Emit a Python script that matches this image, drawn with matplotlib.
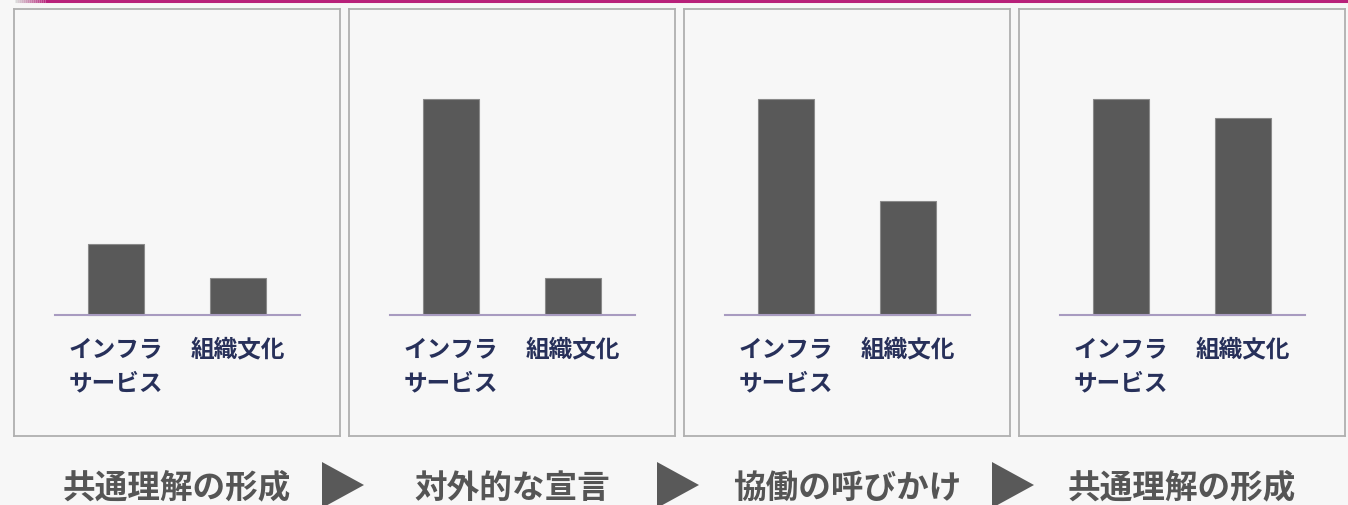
import matplotlib
matplotlib.use("Agg")
import numpy as np
import matplotlib.pyplot as plt
from matplotlib.patches import Polygon

plt.rcParams['font.family'] = ['Noto Sans CJK JP', 'DejaVu Sans']

# data
categories = ['インフラ\nサービス', '組織文化']
stages = ['共通理解の形成', '対外的な宣言', '協働の呼びかけ', '共通理解の形成']
infra = [33, 100, 100, 100]
culture = [17, 17, 53, 91]

W, H = 1348, 505
BG = '#f7f7f7'
BAR = '#595959'
NAVY = '#27305a'
GREY_TXT = '#555555'

fig = plt.figure(figsize=(W / 100, H / 100), dpi=100, facecolor=BG)

# overlay in pixel coordinates for decoration
deco = fig.add_axes([0, 0, 1, 1], zorder=0)
deco.set_xlim(0, W)
deco.set_ylim(H, 0)
deco.axis('off')
deco.set_facecolor(BG)

# top accent line, fading in on the left
deco.plot([45, W], [0.8, 0.8], color='#b8207a', lw=2.2, solid_capstyle='butt')
fade = np.linspace(0, 1, 16)
for k in range(15):
    t = fade[k]
    c = (0.85 * (1 - t) + 0.72 * t, 0.85 * (1 - t) + 0.13 * t, 0.85 * (1 - t) + 0.48 * t)
    deco.plot([15 + 2 * k, 17 + 2 * k], [0.8, 0.8], color=c, lw=2.2, solid_capstyle='butt')

panel_left = [14, 349, 684, 1019]
pw, top, bottom = 326, 9, 436
base_y = 315
unit = 2.16  # px per value unit

for i, px in enumerate(panel_left):
    ax = fig.add_axes([px / W, 1 - bottom / H, pw / W, (bottom - top) / H], zorder=1)
    ax.set_facecolor(BG)
    for s in ax.spines.values():
        s.set_color('#b0b0b0')
        s.set_linewidth(1.3)
    ax.set_xticks([])
    ax.set_yticks([])
    ax.set_xlim(-102 / 122, 1 + 102 / 122)
    ax.set_ylim(-(bottom - base_y) / unit, (base_y - top) / unit)

    ax.bar([0, 1], [infra[i], culture[i]], width=56 / 122, color=BAR,
           edgecolor='#8a8a8a', linewidth=0.8, zorder=2)
    ax.plot([-0.5, 1.51], [0, 0], color='#a89bc0', lw=1.5, zorder=3)

    for j, lab in enumerate(categories):
        ax.text(j, -10.2, lab, ha='center', va='top', fontsize=17,
                fontweight='bold', color=NAVY, linespacing=1.52,
                multialignment='left')

    deco.text(px + pw / 2, 488, stages[i], ha='center', va='center',
              fontsize=23.5, fontweight='bold', color=GREY_TXT)

# arrows between stages
for ax_left in [322, 657, 992]:
    deco.add_patch(Polygon([[ax_left, 462], [ax_left, 508], [ax_left + 42, 485]],
                           closed=True, color=BAR, lw=0))

fig.savefig('out.png', dpi=100, facecolor=BG)
